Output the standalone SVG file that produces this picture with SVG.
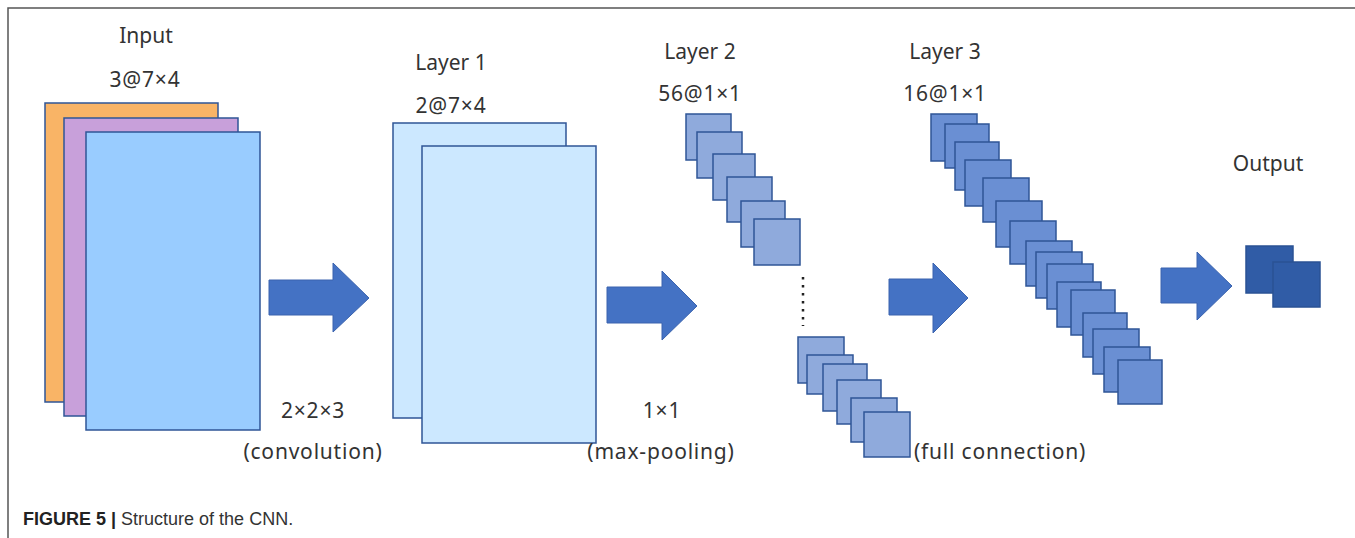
<svg xmlns="http://www.w3.org/2000/svg" width="1355" height="538" viewBox="0 0 1355 538">
<style>
.t{font-family:"Noto Sans","DejaVu Sans",sans-serif;font-size:21px;fill:#333;text-anchor:middle}
.w{letter-spacing:0.8px}
.s{stroke:#2F5597;stroke-width:1.5}
.l1{fill:#CCE8FF}
.l2{fill:#8FAADC}
.l3{fill:#6A8FD3}
.out{fill:#305CA6;stroke:#2A5294;stroke-width:1.5}
.arr{fill:#4472C4;stroke:#3A63AE;stroke-width:1}
.cap{font-family:"Liberation Sans",Arial,sans-serif;font-size:18px;fill:#333}
</style>
<rect x="0" y="0" width="1355" height="538" fill="#fff"/>
<g id="frame">
<path d="M8,538 V8 H1355" fill="none" stroke="#555" stroke-width="1.5"/>
</g>
<g id="input">
<rect x="45" y="103" width="173" height="299" fill="#F9B466" class="s"/>
<rect x="64" y="118" width="174" height="298" fill="#C8A0DA" class="s"/>
<rect x="86" y="132" width="174" height="298" fill="#99CCFF" class="s"/>
<text class="t" x="146" y="43">Input</text>
<text class="t w" x="145" y="87">3@7×4</text>
</g>
<g id="layer1">
<rect x="393" y="123" width="173" height="295" class="s l1"/>
<rect x="422" y="146" width="174" height="297" class="s l1"/>
<text class="t" x="451" y="70">Layer 1</text>
<text class="t w" x="451" y="113">2@7×4</text>
</g>
<g id="layer2">
<text class="t" x="700" y="59">Layer 2</text>
<text class="t w" x="700" y="101">56@1×1</text>
<rect x="686" y="114" width="45" height="46" class="s l2"/>
<rect x="697" y="132" width="45" height="46" class="s l2"/>
<rect x="713" y="154" width="42" height="46" class="s l2"/>
<rect x="727" y="177" width="45" height="45" class="s l2"/>
<rect x="741" y="201" width="44" height="46" class="s l2"/>
<rect x="754" y="219" width="46" height="46" class="s l2"/>
<line x1="803" y1="277" x2="803" y2="326" stroke="#222" stroke-width="2.5" stroke-dasharray="2.5,5.5"/>
<rect x="798" y="337" width="46" height="46" class="s l2"/>
<rect x="807" y="355" width="46" height="39" class="s l2"/>
<rect x="823" y="364" width="44" height="47" class="s l2"/>
<rect x="837" y="380" width="44" height="44" class="s l2"/>
<rect x="851" y="398" width="46" height="44" class="s l2"/>
<rect x="864" y="412" width="46" height="45" class="s l2"/>
</g>
<g id="layer3">
<text class="t" x="945" y="59">Layer 3</text>
<text class="t w" x="945" y="101">16@1×1</text>
<rect x="931" y="114" width="46" height="47" class="s l3"/>
<rect x="945" y="124" width="44" height="44" class="s l3"/>
<rect x="955" y="142" width="44" height="48" class="s l3"/>
<rect x="965" y="160" width="46" height="46" class="s l3"/>
<rect x="983" y="178" width="46" height="44" class="s l3"/>
<rect x="996" y="201" width="46" height="46" class="s l3"/>
<rect x="1010" y="221" width="46" height="43" class="s l3"/>
<rect x="1026" y="241" width="46" height="45" class="s l3"/>
<rect x="1036" y="252" width="46" height="46" class="s l3"/>
<rect x="1047" y="264" width="46" height="45" class="s l3"/>
<rect x="1057" y="282" width="44" height="45" class="s l3"/>
<rect x="1071" y="290" width="44" height="45" class="s l3"/>
<rect x="1083" y="313" width="44" height="44" class="s l3"/>
<rect x="1093" y="329" width="46" height="45" class="s l3"/>
<rect x="1104" y="347" width="46" height="45" class="s l3"/>
<rect x="1118" y="360" width="44" height="44" class="s l3"/>
</g>
<g id="output">
<text class="t" x="1268" y="171">Output</text>
<rect x="1246" y="246" width="47" height="47" class="out"/>
<rect x="1273" y="262" width="47" height="45" class="out"/>
</g>
<g id="connectors">
<polygon class="arr" points="269,280 333,280 333,263 369,298 333,332 333,315 269,315"/>
<polygon class="arr" points="607,287 662,287 662,271 697,306 662,340 662,323 607,323"/>
<polygon class="arr" points="889,279 933,279 933,263 968,298 933,333 933,315 889,315"/>
<polygon class="arr" points="1161,268 1197,268 1197,252 1232,286 1197,320 1197,303 1161,303"/>
</g>
<g id="labels">
<text class="t w" x="313" y="418">2×2×3</text>
<text class="t w" x="313" y="459">(convolution)</text>
<text class="t w" x="662" y="418">1×1</text>
<text class="t w" x="661" y="459">(max-pooling)</text>
<text class="t w" x="1000" y="459">(full connection)</text>
</g>
<g id="caption">
<text class="cap" x="23" y="525"><tspan font-weight="bold" fill="#222">FIGURE 5 |</tspan> Structure of the CNN.</text>
</g>
</svg>
